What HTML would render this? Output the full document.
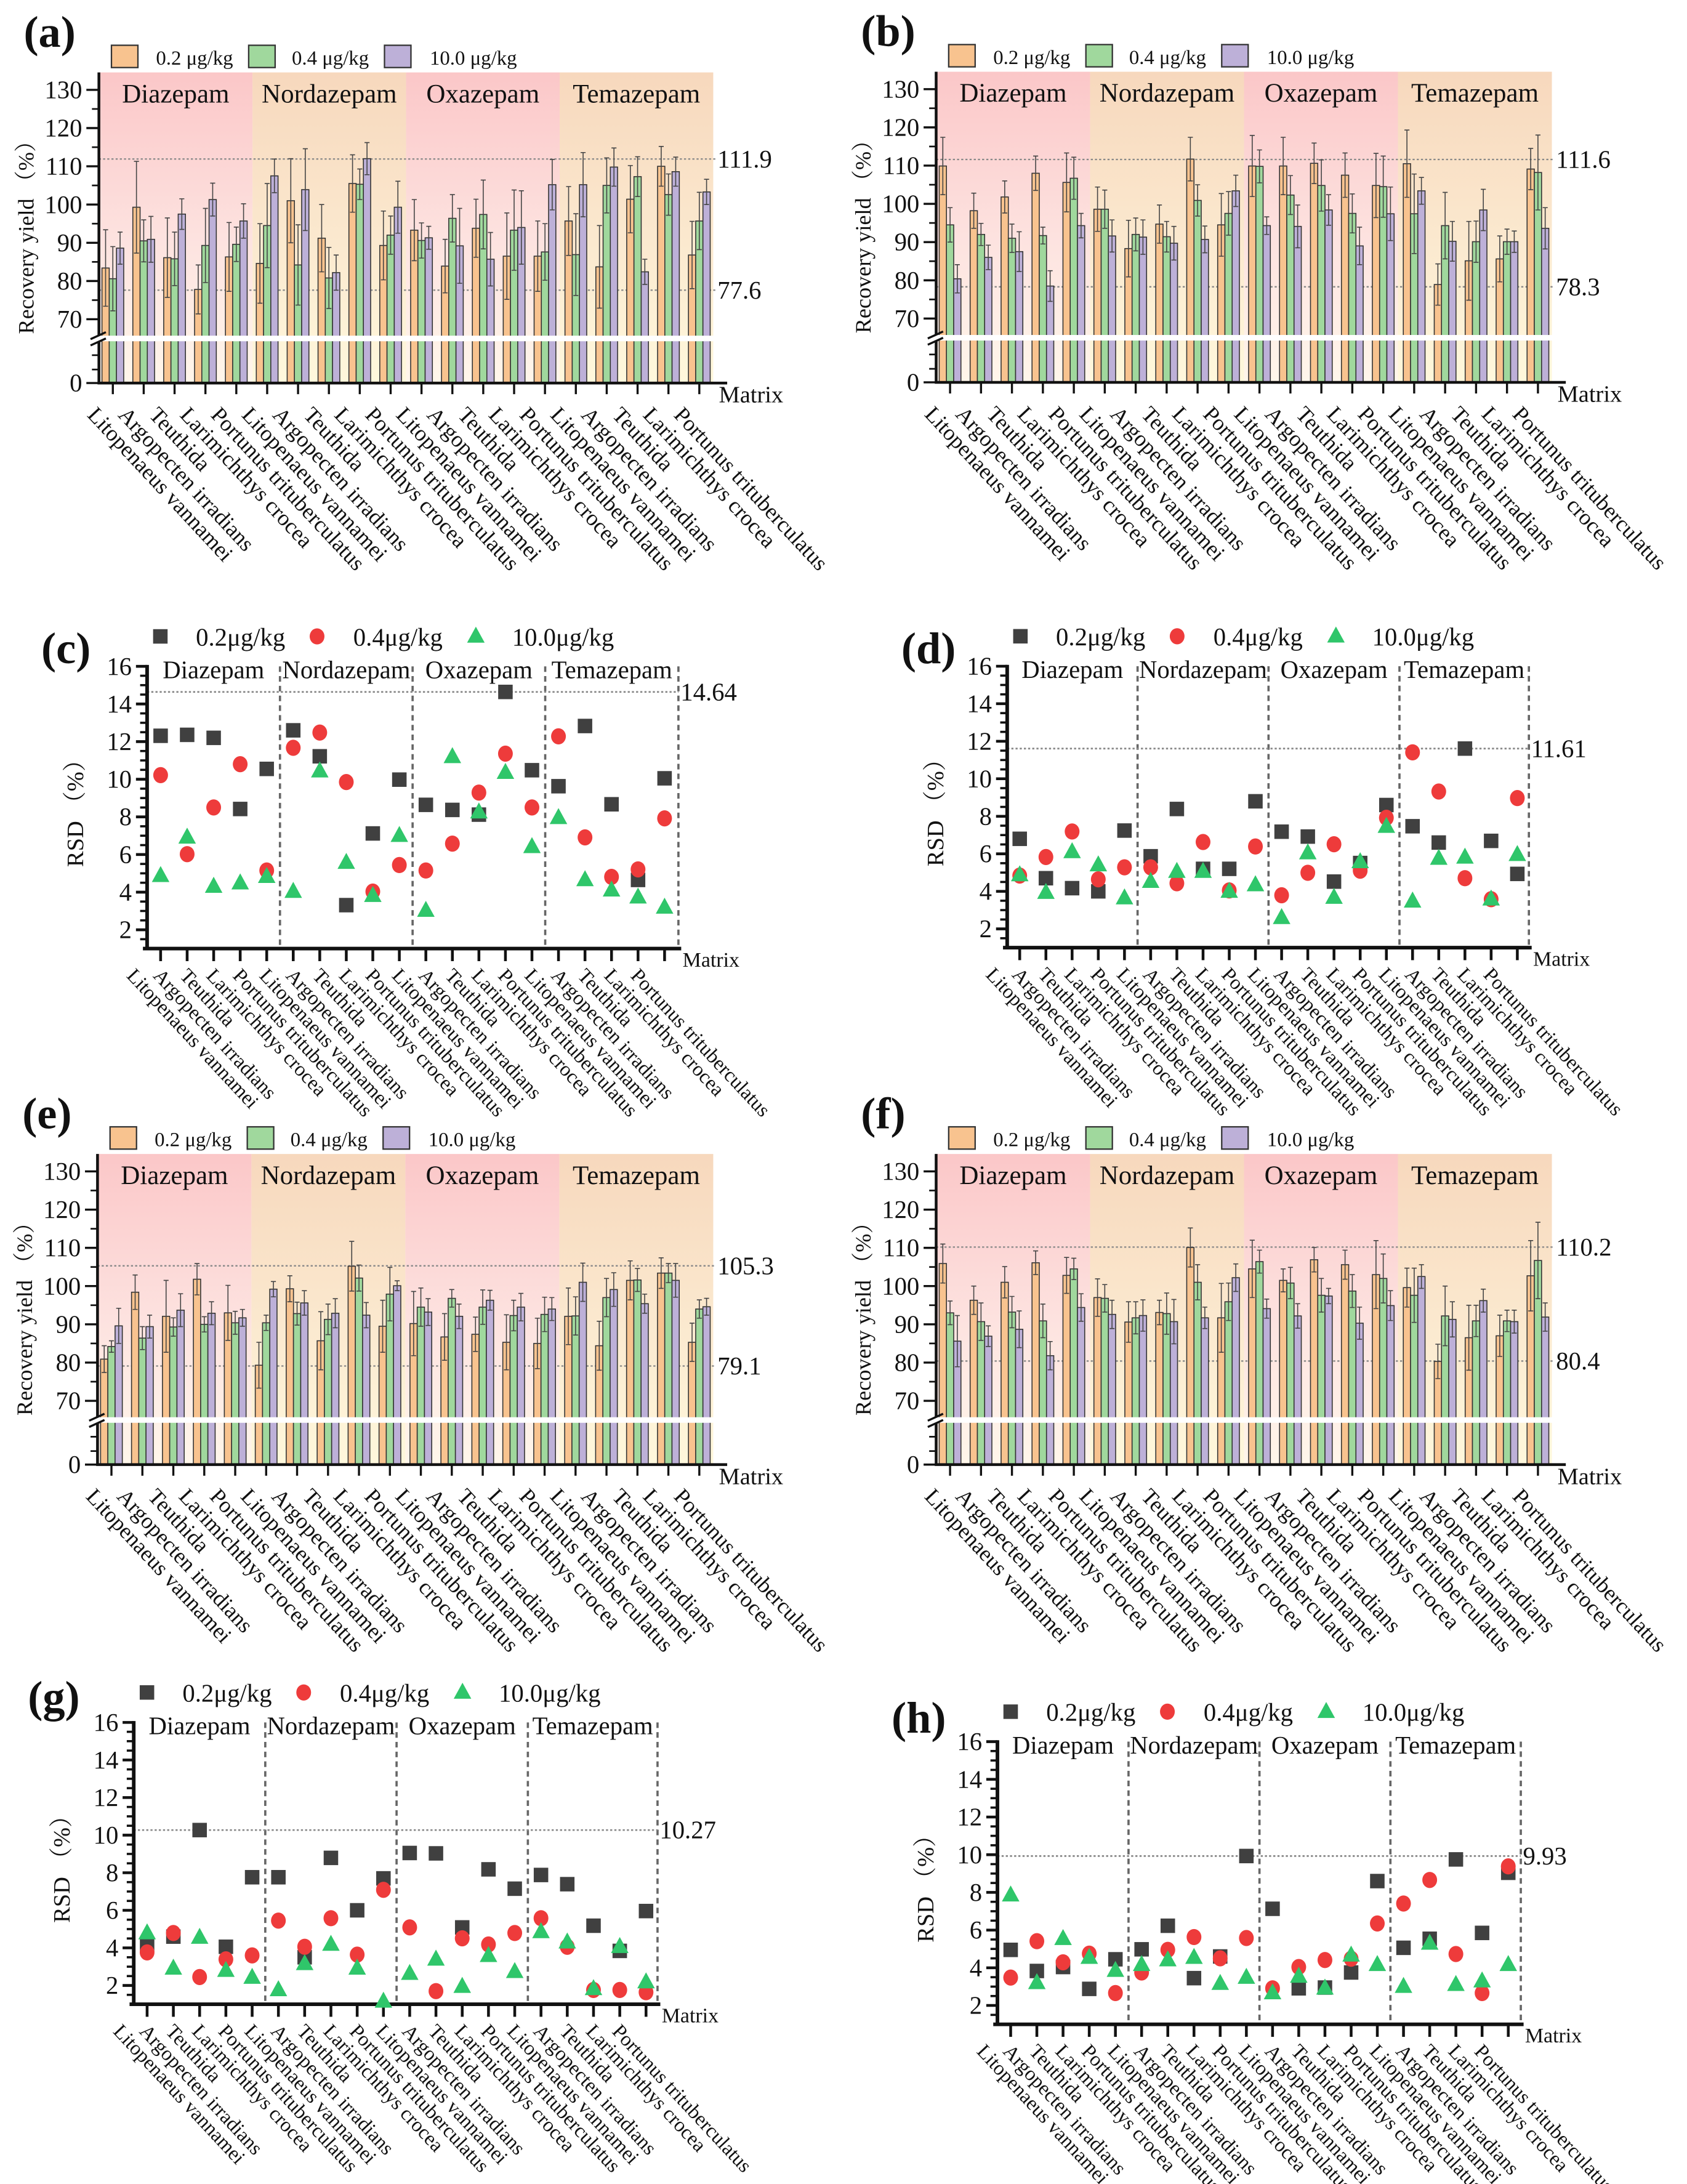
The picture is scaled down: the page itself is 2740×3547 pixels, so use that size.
<!DOCTYPE html>
<html><head><meta charset="utf-8"><style>
html,body{margin:0;padding:0;background:#fff;}
svg{display:block;}
text{font-family:"Liberation Serif","Noto Serif CJK SC",serif;fill:#111;}
</style></head><body>
<svg id="fig" xmlns="http://www.w3.org/2000/svg" width="2740" height="3547" viewBox="0 0 1211 1568" preserveAspectRatio="none">
<defs>
<linearGradient id="gPink" x1="0" y1="0" x2="0" y2="1"><stop offset="0" stop-color="#fbc7c8"/><stop offset="0.55" stop-color="#fde3e0"/><stop offset="1" stop-color="#fff6ea"/></linearGradient>
<linearGradient id="gPeach" x1="0" y1="0" x2="0" y2="1"><stop offset="0" stop-color="#f7d8bd"/><stop offset="0.55" stop-color="#fbe9cf"/><stop offset="1" stop-color="#fff8dc"/></linearGradient>
</defs>
</svg>
<script>
const cats = ["Litopenaeus vannamei","Argopecten irradians","Teuthida","Larimichthys crocea","Portunus trituberculatus",
"Litopenaeus vannamei","Argopecten irradians","Teuthida","Larimichthys crocea","Portunus trituberculatus",
"Litopenaeus vannamei","Argopecten irradians","Teuthida","Larimichthys crocea","Portunus trituberculatus",
"Litopenaeus vannamei","Argopecten irradians","Teuthida","Larimichthys crocea","Portunus trituberculatus"];
const groups = ["Diazepam","Nordazepam","Oxazepam","Temazepam"];
const barLegend = ["0.2 μg/kg","0.4 μg/kg","10.0 μg/kg"];
const dotLegend = ["0.2μg/kg","0.4μg/kg","10.0μg/kg"];
const barTicks = [70,80,90,100,110,120,130];
const rsdTicks = [2,4,6,8,10,12,14,16];

// (a)
const aLow  = [83.4,99.3,86.1,77.8,86.3, 84.6,101,91.2,105.5,89.3, 93.3,83.9,93.8,86.5,86.5, 95.7,83.7,101.4,110,86.8];
const aMid  = [80.6,90.5,85.8,89.3,89.6, 94.5,84.2,80.8,105.3,92, 90.6,96.4,97.4,93.3,87.6, 86.9,105,107.3,102.6,95.7];
const aHigh = [88.6,90.9,97.5,101.3,95.7, 107.5,103.9,82.2,112,99.3, 91.3,89.2,85.7,94,105.2, 105.2,109.8,82.4,108.6,103.3];
const aLowE = [10,12,10.4,6.4,9, 10.4,11,8.8,7.5,9, 8,7,7.6,11.3,9.2, 9,10.8,8.8,5.2,8.8];
const aMidE = [8.4,5.5,7,9.7,4.5, 11,10.5,8,4,5, 4.6,6.2,9,10.5,7.4, 10.7,7.2,5.2,5.4,7.5];
const aHighE= [4.2,6,4,4.3,4.5, 4.4,10.7,4.6,4.2,6.8, 3,9.8,7,9.6,6.6, 8.4,5,3.3,3.8,3.3];
const aRefs = [111.9,77.6];
// (b)
const bLow  = [109.9,98.2,101.8,108,105.6, 98.6,88.3,94.7,111.7,94.5, 109.9,109.9,110.6,107.5,104.8, 110.5,78.9,85.1,85.6,109.1];
const bMid  = [94.5,92,91,91.7,106.7, 98.6,92,91.4,100.9,97.5, 109.8,102.3,104.8,97.5,104.5, 97.4,94.3,90.1,90.1,108.2];
const bHigh = [80.4,86,87.5,78.5,94.3, 91.6,91.3,89.7,90.7,103.4, 94.3,94.1,98.4,89,97.4, 103.4,90.2,98.4,90.1,93.6];
const bLowE = [7.5,4.6,4.2,4.5,7.7, 5.8,7.4,5,5.7,8.2, 8,7.5,5.3,5.8,8.4, 8.8,5.4,10.3,6,5.4];
const bMidE = [4.5,2.9,3.7,2.2,5.5, 5,4.3,4,4.1,5.7, 4.3,5.1,6.7,5.1,8, 10.4,8.7,5.4,3.3,9.8];
const bHighE= [3.7,3.2,5.2,4,3.2, 4.2,4.5,4.4,3.5,4.1, 2.3,5.6,4,4.9,7, 3.5,5.2,5.4,2.8,5.4];
const bRefs = [111.6,78.3];
// (e)
const eLow  = [80.9,98.4,92.1,101.8,93, 79.3,99.3,85.7,105.2,89.5, 90.2,86.7,87.4,85.3,85, 92.1,84.4,101.5,103.4,85.3];
const eMid  = [84.2,86.4,89.3,90,90.4, 90.4,92.8,91.3,102.1,97.9, 94.5,96.8,94.5,92.3,92.6, 92.2,97,101.6,103.4,94];
const eHigh = [89.6,89.4,93.7,92.9,91.7, 99.2,95.6,92.9,92.4,100.1, 93.2,92.1,96.3,94.5,94, 101,99.1,95.4,101.5,94.6];
const eLowE = [3.5,4.5,9.4,4.1,7.2, 6,3.4,7.6,6.5,6.8, 8.4,6.1,4.5,7.2,6.6, 7.4,6.4,5.1,4,5];
const eMidE = [1.5,3,2.4,2,3, 2,3,4,3.4,7, 5,2.3,4.5,4,4.5, 5,5,3,2.5,2.4];
const eHighE= [4.6,3,4.3,3,2.2, 2,3.2,3.8,3.3,1.3, 3.5,3.2,2.6,3.6,3, 5,4.4,2.5,4.4,2.2];
const eRefs = [105.3,79.1];
// (f)
const fLow  = [105.9,96.3,101,106.1,102.8, 97,90.6,93.1,110.1,91.7, 104.5,101.5,106.9,105.6,103, 99.6,80.3,86.5,87,102.7];
const fMid  = [93,90.7,93.2,90.9,104.5, 96.8,91.7,92.8,101,95.9, 106.4,100.8,97.6,98.7,102, 97.6,92.2,90.9,90.9,106.7];
const fHigh = [85.6,86.9,88.7,81.8,94.4, 92.6,92.3,90.7,91.7,102.2, 94.1,92.2,97.4,90.3,94.9, 102.5,91.3,96.2,90.7,91.9];
const fLowE = [5.1,3.7,4.1,3.1,4.7, 4.9,5.3,3.2,5.1,9, 7.5,3,3.2,3.8,8.9, 5.1,4.5,8.5,5.4,9.2];
const fMidE = [3.1,4.9,4.1,4.4,2.8, 3.6,4.2,5.4,4.6,4.9, 3,4.1,4.4,4.3,6.4, 7.1,7.8,4.1,2.8,10];
const fHighE= [6.7,2.7,4.8,3.7,3.6, 3.7,4.1,5.8,2.8,3.6, 2.5,3.2,2,4.2,3.9, 3.1,4.6,3,3,3.7];
const fRefs = [110.2,80.4];
// (c)
const cSq  = [12.31,12.36,12.2,8.42,10.55, 12.6,11.22,3.31,7.12,9.98, 8.64,8.37,8.12,14.64,10.48, 9.63,12.83,8.67,4.65,10.05];
const cCi  = [10.22,6.02,8.5,10.8,5.15, 11.67,12.48,9.85,4.03,5.44, 5.15,6.58,9.29,11.36,8.5, 12.28,6.91,4.81,5.21,7.92];
const cTr  = [4.87,6.91,4.3,4.48,4.82, 4.03,10.43,5.57,3.81,7.0, 3.02,11.19,8.25,10.35,6.41, 7.95,4.65,4.1,3.73,3.19];
const cRef = 14.64;
// (d)
const dSq  = [6.8,4.7,4.17,4.0,7.24, 5.87,8.39,5.2,5.2,8.8, 7.18,6.92,4.52,5.51,8.6, 7.47,6.6,11.61,6.69,4.93];
const dCi  = [4.84,5.83,7.19,4.64,5.28, 5.28,4.43,6.63,4.05,6.39, 3.79,4.99,6.51,5.1,7.92, 11.41,9.32,4.7,3.58,8.97];
const dTr  = [4.87,3.93,6.1,5.4,3.64, 4.52,5.05,5.05,3.99,4.34, 2.59,6.04,3.67,5.57,7.45, 3.47,5.75,5.81,3.58,5.95];
const dRef = 11.61;
// (g)
const gSq  = [4.18,4.6,10.27,4.06,7.76, 7.76,3.5,8.79,6.0,7.7, 9.05,9.03,5.09,8.18,7.15, 7.88,7.39,5.18,3.84,5.96];
const gCi  = [3.76,4.79,2.45,3.39,3.6, 5.45,4.06,5.58,3.64,7.09, 5.09,1.7,4.51,4.18,4.79, 5.58,4.06,1.76,1.76,1.64];
const gTr  = [4.79,2.91,4.55,2.79,2.42, 1.76,3.15,4.18,2.91,1.15, 2.63,3.39,1.94,3.58,2.73, 4.85,4.3,1.82,4.06,2.18];
const gRef = 10.27;
// (h)
const hSq  = [4.95,3.83,4.04,2.88,4.45, 4.98,6.23,3.45,4.6,9.93, 7.13,2.91,2.95,3.75,8.6, 5.06,5.54,9.75,5.85,9.04];
const hCi  = [3.48,5.41,4.29,4.75,2.66, 3.75,4.95,5.63,4.5,5.58, 2.91,4.04,4.41,4.48,6.35, 7.41,8.66,4.73,2.66,9.38];
const hTr  = [7.85,3.2,5.54,4.54,3.85, 4.16,4.41,4.54,3.16,3.48, 2.66,3.54,2.91,4.66,4.16, 3.0,5.29,3.1,3.29,4.16];
const hRef = 9.93;

const NS = "http://www.w3.org/2000/svg";
const svg = document.getElementById("fig");
function mk(parent, tag, attrs, txt) {
  const e = document.createElementNS(NS, tag);
  for (const k in attrs) e.setAttribute(k, attrs[k]);
  if (txt !== undefined) e.textContent = txt;
  parent.appendChild(e);
  return e;
}

function barPanel(tag, L, R, oy, low, mid, high, lowE, midE, highE, refs) {
  const g = mk(svg, "g", {});
  
  
  const zeroY = oy + 210.5;
  const yv = v => oy + (130 - v) * 2.745;
  const top = oy - 12.5;
  const gw = (R - L) / 4;
  // bands
  for (let i = 0; i < 4; i++) {
    const b = mk(g, "rect", {x: L + i * gw, y: top, width: gw, height: zeroY - top, fill: i % 2 === 0 ? "url(#gPink)" : "url(#gPeach)"});
    
    
    const t = mk(g, "text", {x: L + i * gw + gw / 2, y: oy + 9, "text-anchor": "middle", "font-size": 19}, groups[i]);
    
    
  }
  // ref lines
  refs.forEach(r => {
    const l = mk(g, "line", {x1: L, x2: R + 2, y1: yv(r), y2: yv(r), stroke: "#888", "stroke-width": 1, "stroke-dasharray": "1.5 1.5"});
    
    
    const t = mk(g, "text", {x: R + 3, y: yv(r) + 6, "font-size": 18}, String(r));
    
    
  });
  // bars
  const first = L + 10, step = (R - L - 20) / 19, bw = 5.2;
  const series = [[low, lowE, "#f8c38f"], [mid, midE, "#a0d89d"], [high, highE, "#bdb0d8"]];
  for (let i = 0; i < cats.length; i++) {
    const cx = first + i * step;
    series.forEach((s, k) => {
      const v = s[0][i], e = s[1][i];
      const x = cx - 1.5 * bw + k * bw;
      const r = mk(g, "rect", {x: x, y: yv(v), width: bw, height: zeroY - yv(v), fill: s[2], stroke: "#333", "stroke-width": 0.7});
      
      
      const mx = x + bw / 2;
      const eb = mk(g, "path", {d: `M${mx},${yv(v - e)}V${yv(v + e)}M${mx - 1.8},${yv(v + e)}H${mx + 1.8}M${mx - 1.8},${yv(v - e)}H${mx + 1.8}`, stroke: "#444", "stroke-width": 0.7, fill: "none"});
      
      
    });
    const tk = mk(g, "line", {x1: cx, x2: cx, y1: zeroY, y2: zeroY + 8, stroke: "#111", "stroke-width": 1.5});
    
    
    const lb = mk(g, "text", {transform: `translate(${cx - 19},${zeroY + 23.5}) rotate(47)`, "font-size": 16}, cats[i]);
    
    
  }
  // break gap
  const gap = mk(g, "rect", {x: L - 8, y: oy + 176.5, width: R - L + 9, height: 4, fill: "#fff"});
  
  
  // axes
  const ax = mk(g, "path", {d: `M${L},${top}V${oy + 176.5}M${L},${oy + 180.5}V${zeroY}H${R + 10}`, stroke: "#111", "stroke-width": 2, fill: "none"});
  
  
  const bm = mk(g, "path", {d: `M${L - 6},${oy + 179}L${L + 5},${oy + 174}M${L - 6},${oy + 183.5}L${L + 5},${oy + 178.5}`, stroke: "#111", "stroke-width": 1.5});
  
  
  barTicks.forEach(v => {
    const t = mk(g, "line", {x1: L - 9, x2: L, y1: yv(v), y2: yv(v), stroke: "#111", "stroke-width": 1.5});
    
    
    const tl = mk(g, "text", {x: L - 12, y: yv(v) + 6, "text-anchor": "end", "font-size": 18}, String(v));
    
    
    if (v < 130) {
      const m = mk(g, "line", {x1: L - 5, x2: L, y1: yv(v + 5), y2: yv(v + 5), stroke: "#111", "stroke-width": 1.2});
      
      
    }
  });
  [oy + 190.5, oy + 200.8].forEach(y => {
    const m = mk(g, "line", {x1: L - 5, x2: L, y1: y, y2: y, stroke: "#111", "stroke-width": 1.2});
    
    
  });
  const zt = mk(g, "line", {x1: L - 9, x2: L, y1: zeroY, y2: zeroY, stroke: "#111", "stroke-width": 1.5});
  
  
  const zl = mk(g, "text", {x: L - 12, y: zeroY + 6, "text-anchor": "end", "font-size": 18}, "0");
  
  
  const mt = mk(g, "text", {x: R + 4, y: zeroY + 14, "font-size": 17}, "Matrix");
  
  
  const yt = mk(g, "text", {transform: `translate(${L - 47},${oy + 102}) rotate(-90)`, "text-anchor": "middle", "font-size": 16}, "Recovery yield （%）");
  
  
  const pl = mk(g, "text", {x: L - 54, y: oy - 31, "font-size": 32, "font-weight": "bold"}, "(" + tag + ")");
  
  
  // legend
  const cols = ["#f8c38f", "#a0d89d", "#bdb0d8"];
  const sx = [9, 107.5, 205], tx = [41, 138.5, 237.5];
  for (let k = 0; k < 3; k++) {
    const s = mk(g, "rect", {x: L + sx[k], y: oy - 32, width: 19, height: 16, fill: cols[k], stroke: "#333", "stroke-width": 1});
    
    
    const t = mk(g, "text", {x: L + tx[k], y: oy - 18, "font-size": 14.5}, barLegend[k]);
    
    
  }
}

function scatterPanel(tag, L, R, first, step, y16, pu, sq, ci, tr, ref, labelY) {
  const g = mk(svg, "g", {});
  
  
  const yv = v => y16 + (16 - v) * pu;
  const bottom = yv(1);
  // dividers
  for (let i = 1; i <= 4; i++) {
    const x = i < 4 ? first + (i * 5 - 0.5) * step : R;
    const d = mk(g, "line", {x1: x, x2: x, y1: y16, y2: bottom, stroke: "#666", "stroke-width": 1.6, "stroke-dasharray": "4 3"});
    
    
  }
  const bounds = [L, first + 4.5 * step, first + 9.5 * step, first + 14.5 * step, R];
  for (let i = 0; i < 4; i++) {
    const t = mk(g, "text", {x: (bounds[i] + bounds[i + 1]) / 2, y: y16 + 8.5, "text-anchor": "middle", "font-size": 18}, groups[i]);
    
    
  }
  const rl = mk(g, "line", {x1: L, x2: R, y1: yv(ref), y2: yv(ref), stroke: "#888", "stroke-width": 1.2, "stroke-dasharray": "1.5 1.5"});
  
  
  const rt = mk(g, "text", {x: R + 1.5, y: yv(ref) + 6, "font-size": 18}, String(ref));
  
  
  // axes
  const ax = mk(g, "path", {d: `M${L},${y16 - 1}V${bottom}M${L - 3},${bottom}H${R + 2}`, stroke: "#111", "stroke-width": 2.6, fill: "none"});
  
  
  for (let v = 1.5; v <= 16; v += 0.5) {
    const major = rsdTicks.includes(v);
    const t = mk(g, "line", {x1: L - (major ? 8 : 5), x2: L, y1: yv(v), y2: yv(v), stroke: "#111", "stroke-width": major ? 2 : 1.6});
    
    
  }
  rsdTicks.forEach(v => {
    const t = mk(g, "text", {x: L - 11, y: yv(v) + 6, "text-anchor": "end", "font-size": 18}, String(v));
    
    
  });
  for (let i = 0; i < cats.length; i++) {
    const cx = first + i * step;
    const tk = mk(g, "line", {x1: cx, x2: cx, y1: bottom, y2: bottom + 9, stroke: "#111", "stroke-width": 2});
    
    
    const lb = mk(g, "text", {transform: `translate(${cx - 25},${bottom + 20}) rotate(47)`, "font-size": 14.5}, cats[i]);
    
    
    const s = mk(g, "rect", {x: cx - 5.2, y: yv(sq[i]) - 5.2, width: 10.4, height: 10.4, fill: "#404040"});
    
    
    const c = mk(g, "ellipse", {cx: cx, cy: yv(ci[i]), rx: 5.3, ry: 5.8, fill: "#ee3b3b"});
    
    
    const ty = yv(tr[i]);
    const t = mk(g, "path", {d: `M${cx},${ty - 7}L${cx + 6.3},${ty + 4.5}L${cx - 6.3},${ty + 4.5}Z`, fill: "#2fc66a"});
    
    
  }
  const mt = mk(g, "text", {x: R + 3, y: bottom + 13, "font-size": 15}, "Matrix");
  
  
  const yt = mk(g, "text", {transform: `translate(${L - 46},${yv(8.5)}) rotate(-90)`, "text-anchor": "middle", "font-size": 17}, "RSD （%）");
  
  
  const pl = mk(g, "text", {x: L - 76, y: labelY, "font-size": 32, "font-weight": "bold"}, "(" + tag + ")");
  
  
  // legend
  const ly = y16 - 21.5;
  const s = mk(g, "rect", {x: L + 9.5 - 5.2, y: ly - 5.2, width: 10.4, height: 10.4, fill: "#404040"});
  
  
  const c = mk(g, "ellipse", {cx: L + 122, cy: ly, rx: 5.3, ry: 5.8, fill: "#ee3b3b"});
  
  
  const t = mk(g, "path", {d: `M${L + 236},${ly - 7}L${L + 242.3},${ly + 4.5}L${L + 229.7},${ly + 4.5}Z`, fill: "#2fc66a"});
  
  
  [35, 148, 262].forEach((dx, k) => {
    const lt = mk(g, "text", {x: L + dx, y: ly + 6.5, "font-size": 18}, dotLegend[k]);
    
    
  });
}

barPanel("a", 71, 512, 64.5, aLow, aMid, aHigh, aLowE, aMidE, aHighE, aRefs);
barPanel("b", 672, 1114, 64, bLow, bMid, bHigh, bLowE, bMidE, bHighE, bRefs);
barPanel("e", 70, 512, 841, eLow, eMid, eHigh, eLowE, eMidE, eHighE, eRefs);
barPanel("f", 672, 1114, 841, fLow, fMid, fHigh, fLowE, fMidE, fHighE, fRefs);
scatterPanel("c", 105.6, 487, 115.3, 19.04, 478.4, 13.51, cSq, cCi, cTr, cRef, 476);
scatterPanel("d", 723, 1097.5, 732, 18.8, 478.3, 13.47, dSq, dCi, dTr, dRef, 476);
scatterPanel("g", 96, 472, 105.6, 18.85, 1236.6, 13.49, gSq, gCi, gTr, gRef, 1229);
scatterPanel("h", 716, 1091.7, 725.5, 18.8, 1250.4, 13.53, hSq, hCi, hTr, hRef, 1244);
</script>
</body></html>
